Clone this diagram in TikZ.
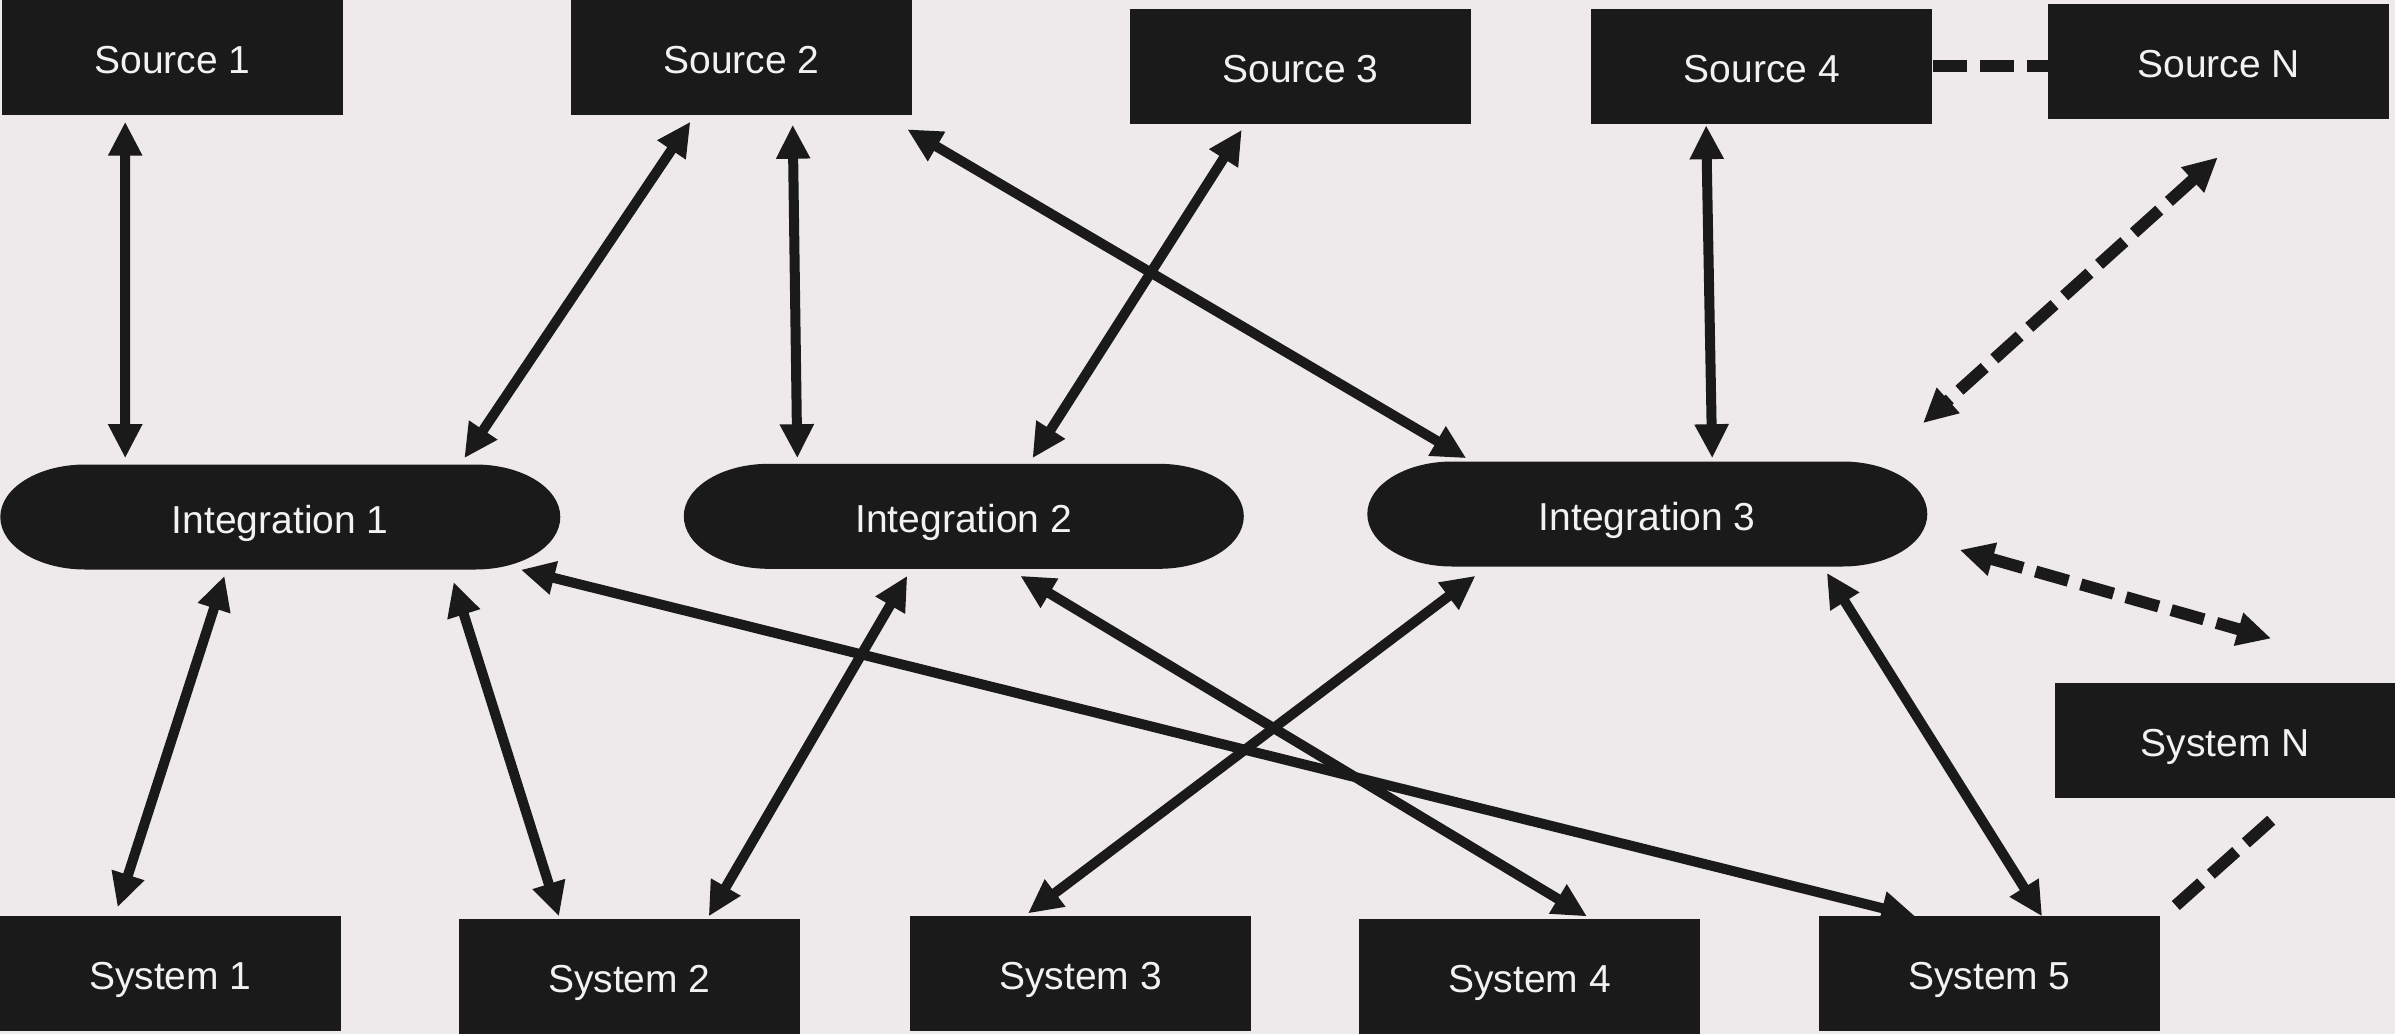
\documentclass[tikz,border=0pt]{standalone}
\usepackage{fontspec}
\setmainfont{Liberation Sans}
\usetikzlibrary{arrows.meta,calc}
\definecolor{bgc}{HTML}{EEEAEB}
\definecolor{boxc}{HTML}{1A1A1A}
\definecolor{txtc}{HTML}{F2F2F2}
\tikzset{
  boxnode/.style={fill=boxc, text=txtc, minimum width=341pt, minimum height=115pt, inner sep=0pt, text height=32pt, text depth=0pt, font=\fontsize{39}{47}\selectfont},
  intnode/.style={text=txtc, minimum width=561pt, minimum height=105pt, inner sep=0pt, text height=32pt, text depth=0pt, font=\fontsize{39}{47}\selectfont},
  tip/.tip={Triangle[length=34pt,width=32pt]},
  link/.style={line width=10pt, draw=boxc, tip-tip},
  dlink/.style={line width=12pt, draw=boxc, dash pattern=on 34pt off 13pt, tip-tip},
  dline/.style={line width=12pt, draw=boxc, dash pattern=on 34pt off 13pt},
  pill/.style={fill=boxc}
}
\newcommand{\pillpath}[1]{%
  \fill[pill, shift={(#1)}] (-195,-52.5) -- (195,-52.5) .. controls (242,-52.5) and (280,-29) .. (280,0)
    .. controls (280,29) and (242,52.5) .. (195,52.5) -- (-195,52.5)
    .. controls (-242,52.5) and (-280,29) .. (-280,0)
    .. controls (-280,-29) and (-242,-52.5) .. (-195,-52.5) -- cycle;}
\begin{document}
\begin{tikzpicture}[x=1pt,y=-1pt]
\fill[bgc] (0,0) rectangle (2395,1034);
\useasboundingbox (0,0) rectangle (2395,1034);

% sources
\node[boxnode] (s1) at (172.6,57.5) {Source 1};
\node[boxnode] (s2) at (741.5,57.5) {Source 2};
\node[boxnode] (s3) at (1300.6,66.4) {Source 3};
\node[boxnode] (s4) at (1761.9,66.4) {Source 4};
\node[boxnode] (sN) at (2218.6,61.9) {Source N};

% integrations
\coordinate (c1) at (280.3,517);
\coordinate (c2) at (963.8,516.3);
\coordinate (c3) at (1647.3,514);
\pillpath{c1}
\pillpath{c2}
\pillpath{c3}
\node[intnode] (i1) at (c1) {Integration 1};
\node[intnode] (i2) at (c2) {Integration 2};
\node[intnode] (i3) at (c3) {Integration 3};

% systems
\node[boxnode] (y1) at (170.3,973.7) {System 1};
\node[boxnode] (y2) at (629.3,976.8) {System 2};
\node[boxnode] (y3) at (1080.6,973.7) {System 3};
\node[boxnode] (y4) at (1529.7,976.8) {System 4};
\node[boxnode] (y5) at (1989.4,973.7) {System 5};
\node[boxnode] (yN) at (2225.4,740) {System N};

% source - integration links
\draw[link] ($(s1)+(-47.4,64.2)$) -- ($(i1)+(-155.1,-58.8)$);
\draw[link] ($(s2)+(-51.1,64.2)$) -- ($(i1)+(184,-58.8)$);
\draw[link] ($(s2)+(51.2,67.2)$) -- ($(i2)+(-166.5,-58.1)$);
\draw[link] ($(s2)+(165.8,71.8)$) -- ($(i3)+(-181,-55.8)$);
\draw[link] ($(s3)+(-58.8,63.4)$) -- ($(i2)+(68.7,-58.1)$);
\draw[link] ($(s4)+(-55.8,58.8)$) -- ($(i3)+(64.9,-55.8)$);

% dashed
\draw[dline] (s4.east) -- (s4.east -| sN.west);
\draw[dlink] ($(sN)+(-0.8,95.4)$) -- ($(i3)+(275.7,-90.9)$);
\draw[dlink] ($(i3)+(312.4,35.9)$) -- ($(yN)+(45.8,-101.5)$);
\draw[dline] ($(yN)+(45.8,80.2)$) -- ($(y5)+(181,-63.4)$);

% integration - system links
\draw[link] ($(i1)+(-55.8,58.8)$) -- ($(y1)+(-52.7,-66.4)$);
\draw[link] ($(i1)+(173.3,64.9)$) -- ($(y2)+(-70.3,-60.4)$);
\draw[link] ($(i1)+(240.5,52.7)$) -- ($(y5)+(-74,-57.3)$);
\draw[link] ($(i2)+(-56.5,59.5)$) -- ($(y2)+(79.4,-60.4)$);
\draw[link] ($(i2)+(56.5,59.5)$) -- ($(y4)+(57.3,-60.4)$);
\draw[link] ($(i3)+(-171.8,61.8)$) -- ($(y3)+(-52.6,-60.3)$);
\draw[link] ($(i3)+(179.5,58.8)$) -- ($(y5)+(52.7,-57.3)$);
\end{tikzpicture}
\end{document}
